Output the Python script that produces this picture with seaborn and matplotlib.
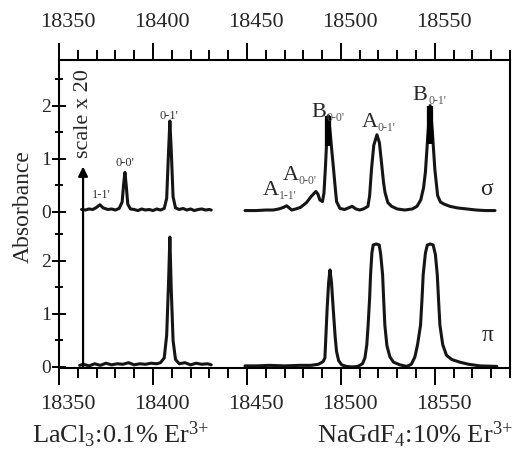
import matplotlib
matplotlib.use("Agg")
import matplotlib.pyplot as plt
import matplotlib.transforms as mtransforms
import numpy as np
import seaborn as sns

SIGMA_OFFSET = 2.93

# LaCl3:0.1% Er3+ (scale x 20), sigma polarisation
lacl_sigma_x = [18362, 18364, 18366, 18368, 18370, 18371.8, 18373.5, 18376, 18378, 18380,
                18382, 18383.6, 18384.4, 18385.1, 18385.8, 18386.6, 18388, 18390, 18392,
                18394, 18396, 18398, 18400, 18402, 18404, 18406, 18407.3, 18408.2, 18409,
                18409.8, 18410.7, 18412, 18414, 18416, 18418, 18420, 18422, 18424, 18426,
                18428, 18430, 18431]
lacl_sigma_y = [0.04, 0.03, 0.05, 0.04, 0.08, 0.13, 0.07, 0.04, 0.05, 0.03,
                0.06, 0.18, 0.52, 0.74, 0.48, 0.14, 0.05, 0.04, 0.02,
                0.05, 0.03, 0.04, 0.02, 0.05, 0.03, 0.06, 0.25, 1.05, 1.71,
                1.10, 0.28, 0.07, 0.04, 0.06, 0.03, 0.05, 0.02, 0.04, 0.05,
                0.03, 0.04, 0.03]

# LaCl3:0.1% Er3+ (scale x 20), pi polarisation
lacl_pi_x = [18361, 18363, 18366, 18369, 18372, 18375, 18378, 18381, 18384, 18387,
             18390, 18393, 18396, 18399, 18402, 18404, 18406, 18407.3, 18408.3, 18409,
             18409.7, 18410.7, 18412, 18414, 18417, 18420, 18423, 18426, 18429, 18431]
lacl_pi_y = [0.03, 0.05, 0.02, 0.06, 0.03, 0.07, 0.04, 0.06, 0.05, 0.08,
             0.04, 0.06, 0.05, 0.07, 0.06, 0.08, 0.17, 0.6, 1.6, 2.45,
             1.5, 0.5, 0.14, 0.06, 0.08, 0.04, 0.07, 0.05, 0.06, 0.04]

# NaGdF4:10% Er3+, sigma polarisation
nagdf_sigma_x = [18449, 18455, 18460, 18464, 18467, 18469.5, 18471.1, 18472.5, 18473.8, 18476,
                 18478.5, 18481.7, 18484.3, 18486.7, 18487.8, 18488.8, 18490.2, 18491.0,
                 18491.8, 18492.6, 18493.3, 18494.3, 18495.3, 18496.0, 18497.0, 18497.7,
                 18499.5, 18502, 18504, 18506, 18508, 18510, 18512, 18514.4, 18515.3,
                 18516.3, 18517.5, 18519.2, 18520.5, 18521.6, 18522.7, 18523.5, 18525,
                 18527, 18530, 18534, 18538, 18540.5, 18542.5, 18544, 18545, 18546.3,
                 18547.5, 18548.7, 18550, 18551.5, 18553, 18555, 18558, 18562, 18567,
                 18572, 18577, 18582]
nagdf_sigma_y = [0.02, 0.02, 0.03, 0.03, 0.05, 0.08, 0.11, 0.07, 0.03, 0.05,
                 0.08, 0.17, 0.29, 0.38, 0.33, 0.22, 0.19, 0.35,
                 0.85, 1.45, 1.81, 1.5, 1.1, 0.84, 0.45, 0.19,
                 0.06, 0.04, 0.07, 0.1, 0.05, 0.03, 0.05, 0.1, 0.3,
                 0.8, 1.25, 1.45, 1.3, 0.93, 0.55, 0.36, 0.17,
                 0.1, 0.05, 0.03, 0.05, 0.1, 0.22, 0.45, 0.75, 1.45,
                 2.0, 1.5, 0.8, 0.3, 0.18, 0.14, 0.1, 0.07, 0.05,
                 0.03, 0.02, 0.02]

# NaGdF4:10% Er3+, pi polarisation
nagdf_pi_x = [18449, 18455, 18462, 18470, 18478, 18484, 18488, 18490.5, 18491.5, 18492.7,
              18493.5, 18494.2, 18495, 18495.9, 18497, 18497.7, 18498.8, 18500.4, 18503,
              18506, 18509, 18511.5, 18512.8, 18513.8, 18514.5, 18515.3, 18515.8, 18516.5,
              18517.2, 18518.8, 18520.4, 18521.2, 18522.2, 18522.8, 18523.4, 18524.5,
              18526.1, 18528, 18531.4, 18535, 18537.5, 18539.4, 18540.8, 18542.4, 18543.2,
              18543.8, 18545, 18546, 18547.5, 18549.1, 18550.3, 18551.3, 18552, 18552.7,
              18554.2, 18556.2, 18559, 18563.3, 18568, 18574, 18583]
nagdf_pi_y = [0.02, 0.02, 0.03, 0.02, 0.03, 0.03, 0.05, 0.1, 0.17, 1.11,
              1.6, 1.83, 1.6, 1.11, 0.55, 0.29, 0.12, 0.04, 0.01,
              0.0, 0.01, 0.06, 0.17, 0.42, 0.79, 1.3, 1.74, 2.15,
              2.3, 2.32, 2.3, 2.12, 1.74, 1.25, 0.79, 0.4,
              0.19, 0.09, 0.04, 0.01, 0.05, 0.19, 0.42, 0.79, 1.3,
              1.74, 2.15, 2.3, 2.32, 2.3, 2.12, 1.74, 1.25, 0.79,
              0.42, 0.22, 0.14, 0.09, 0.05, 0.02, 0.01]

# thick black segments on the sigma B peaks
bar_x = [18493.4, 18547.4]
bar_lo = [1.24, 1.28]
bar_hi = [1.81, 2.0]

x_major = [18350, 18400, 18450, 18500, 18550]
y_major = [0, 1, 2]
y_minor = [0.5, 1.5, 2.5]


def main():
    sns.set_style("ticks")
    plt.rcParams["font.family"] = ["Liberation Serif", "DejaVu Serif"]
    plt.rcParams["mathtext.default"] = "regular"

    fig = plt.figure(figsize=(5.2, 4.67), dpi=100)
    ax = fig.add_axes([59 / 520, 1 - 368 / 467, 451 / 520, 308 / 467])

    traces = [
        (lacl_sigma_x, lacl_sigma_y, SIGMA_OFFSET),
        (lacl_pi_x, lacl_pi_y, 0.0),
        (nagdf_sigma_x, nagdf_sigma_y, SIGMA_OFFSET),
        (nagdf_pi_x, nagdf_pi_y, 0.0),
    ]
    for xs, ys, off in traces:
        sns.lineplot(x=xs, y=np.asarray(ys) + off, ax=ax, color="#151515",
                     lw=2.2, estimator=None, sort=False)

    ax.vlines(bar_x, np.asarray(bar_lo) + SIGMA_OFFSET, np.asarray(bar_hi) + SIGMA_OFFSET,
              color="k", lw=4.5)

    ax.set_xlim(18350, 18590)
    ax.set_ylim(-0.02, 5.79)

    ax.set_xticks(x_major)
    ax.set_xticklabels([str(v) for v in x_major])
    ax.xaxis.set_minor_locator(matplotlib.ticker.MultipleLocator(10))
    ax.set_yticks(y_major + [v + SIGMA_OFFSET for v in y_major])
    ax.set_yticklabels([str(v) for v in y_major] * 2)
    ax.set_yticks(y_minor + [v + SIGMA_OFFSET for v in y_minor], minor=True)

    for side in ["left", "right", "top", "bottom"]:
        ax.spines[side].set_visible(True)
        ax.spines[side].set_linewidth(1.5)
        ax.spines[side].set_color("k")

    ax.tick_params(axis="x", which="both", direction="out", top=True, labeltop=True,
                   bottom=True, width=1.4, color="k", labelsize=16, pad=7)
    ax.tick_params(axis="x", which="major", length=12.5)
    ax.tick_params(axis="x", which="minor", length=7)
    ax.tick_params(axis="y", which="both", direction="inout", width=1.4, color="k",
                   labelsize=14, pad=1)
    ax.tick_params(axis="y", which="major", length=10)
    ax.tick_params(axis="y", which="minor", length=6)

    # the tick labels sit a little right of their ticks in the original
    shift_bot = mtransforms.ScaledTranslation(0.09, 0, fig.dpi_scale_trans)
    shift_top = mtransforms.ScaledTranslation(0.09, 0.01, fig.dpi_scale_trans)
    for t in ax.xaxis.get_major_ticks():
        t.label1.set_transform(t.label1.get_transform() + shift_bot)
        t.label2.set_transform(t.label2.get_transform() + shift_top)

    ax.set_xlabel("")
    ax.set_ylabel("Absorbance", fontsize=17)
    ax.yaxis.set_label_coords(-0.056, 0.523)

    # scale arrow for the LaCl3 spectra
    ax.annotate("", xy=(18362.8, 3.78), xytext=(18362.8, 0.0),
                arrowprops=dict(arrowstyle="-|>", lw=1.6, color="k",
                                mutation_scale=14, shrinkA=0, shrinkB=0))
    ax.text(18363.3, 4.78, "scale x 20", rotation=90, ha="center", va="center",
            fontsize=16)

    small = dict(fontsize=9, ha="center", va="center", color="#333333")
    ax.text(18372.3, 3.25, "1-1'", **small)
    ax.text(18385.1, 3.84, "0-0'", **small)
    ax.text(18408.5, 4.74, "0-1'", **small)

    def peak_label(x, y, main_txt, sub_txt):
        ax.text(x, y, main_txt, fontsize=16, ha="left", va="baseline")
        ax.annotate(sub_txt, xy=(x, y), xytext=(11.5, -3), textcoords="offset points",
                    fontsize=8.5, color="#555555", ha="left", va="baseline")

    peak_label(18458.5, 3.25, "A", "1-1'")
    peak_label(18469.2, 3.53, "A", "0-0'")
    peak_label(18484.1, 4.72, "B", "0-0'")
    peak_label(18511.2, 4.53, "A", "0-1'")
    peak_label(18538.3, 5.04, "B", "0-1'")

    ax.text(18577.7, 3.34, "σ", fontsize=17, ha="center", va="center")
    ax.text(18578.2, 0.60, "π", fontsize=17, ha="center", va="center")

    fig.text(32 / 520, 1 - 443 / 467, r"LaCl$_3$:0.1% Er$^{3{+}}$", fontsize=19,
             ha="left", va="baseline")
    fig.text(513 / 520, 1 - 443 / 467, r"NaGdF$_4$:10% Er$^{3{+}}$", fontsize=19,
             ha="right", va="baseline")

    fig.savefig("out.png", dpi=100)


if __name__ == "__main__":
    main()
